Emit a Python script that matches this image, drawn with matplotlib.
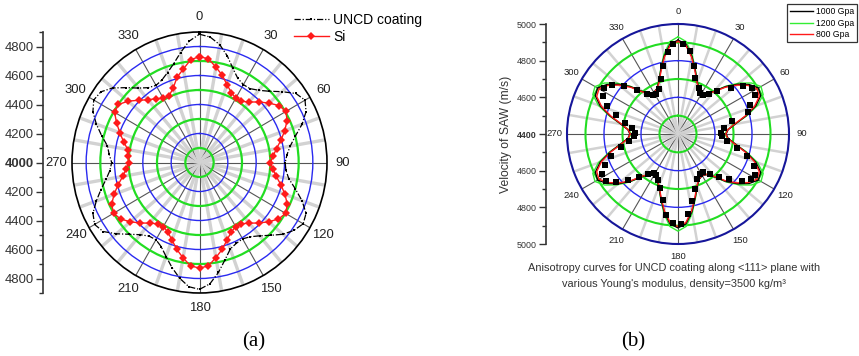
## SAW velocity anisotropy: (a) UNCD coating vs Si, (b) UNCD fits for several Young's moduli
import numpy as np
import matplotlib
matplotlib.use('Agg')
import matplotlib.pyplot as plt

plt.rcParams['font.family'] = ['Liberation Sans', 'DejaVu Sans']

## Data
# (a) velocity (m/s) every 5 degrees
ang_a = list(range(0, 365, 5))
uncd = [4885, 4868, 4825, 4760, 4690, 4640, 4620, 4622, 4650, 4695, 4760, 4830, 4860, 4830, 4770, 4700, 4650, 4620, 4605,
        4612, 4640, 4700, 4770, 4830, 4845, 4815, 4770, 4710, 4660, 4625, 4608, 4615, 4635, 4695, 4770, 4840, 4875,
        4860, 4810, 4750, 4690, 4640, 4615, 4620, 4650, 4700, 4765, 4830, 4855, 4830, 4775, 4720, 4670, 4635, 4620,
        4640, 4660, 4715, 4775, 4830, 4862, 4850, 4800, 4730, 4670, 4630, 4614, 4628, 4660, 4705, 4770, 4840, 4885]
si = [4730, 4718, 4668, 4622, 4570, 4532, 4512, 4515, 4545, 4590, 4638, 4685, 4705, 4682, 4640, 4595, 4552, 4522, 4500,
      4520, 4550, 4595, 4642, 4684, 4702, 4680, 4636, 4590, 4546, 4516, 4510, 4530, 4568, 4620, 4666, 4716, 4728,
      4716, 4668, 4620, 4568, 4530, 4510, 4516, 4546, 4590, 4636, 4680, 4700, 4684, 4642, 4595, 4550, 4520, 4500,
      4505, 4514, 4555, 4598, 4646, 4692, 4698, 4658, 4607, 4565, 4537, 4511, 4508, 4545, 4610, 4655, 4712, 4730]
scale_a_lbl = ['4800', '4600', '4400', '4200', '4000', '4200', '4400', '4600', '4800']

# (b) calculated curves every 5 degrees
ang_b = list(range(0, 365, 5))
v_1000 = [4912, 4892, 4831, 4760, 4703, 4672, 4662, 4671, 4704, 4766, 4822, 4870, 4902, 4893, 4847, 4780, 4714, 4672, 4660,
          4672, 4714, 4780, 4847, 4893, 4902, 4870, 4822, 4766, 4704, 4671, 4662, 4672, 4703, 4760, 4831, 4892, 4912,
          4892, 4831, 4760, 4703, 4672, 4662, 4671, 4704, 4766, 4822, 4870, 4902, 4893, 4847, 4780, 4714, 4672, 4660,
          4672, 4714, 4780, 4847, 4893, 4902, 4870, 4822, 4766, 4704, 4671, 4662, 4672, 4703, 4760, 4831, 4892, 4912]
v_1200 = [4930, 4906, 4840, 4763, 4704, 4670, 4658, 4668, 4705, 4770, 4832, 4885, 4918, 4908, 4858, 4785, 4714, 4668, 4652,
          4668, 4714, 4785, 4858, 4908, 4918, 4885, 4832, 4770, 4705, 4668, 4658, 4670, 4704, 4763, 4840, 4906, 4930,
          4906, 4840, 4763, 4704, 4670, 4658, 4668, 4705, 4770, 4832, 4885, 4918, 4908, 4858, 4785, 4714, 4668, 4652,
          4668, 4714, 4785, 4858, 4908, 4918, 4885, 4832, 4770, 4705, 4668, 4658, 4670, 4704, 4763, 4840, 4906, 4930]
v_800 = [4905, 4885, 4825, 4755, 4700, 4670, 4660, 4668, 4700, 4760, 4815, 4862, 4893, 4885, 4840, 4775, 4710, 4670, 4658,
         4670, 4710, 4775, 4840, 4885, 4893, 4862, 4815, 4760, 4700, 4668, 4660, 4670, 4700, 4755, 4825, 4885, 4905,
         4885, 4825, 4755, 4700, 4670, 4660, 4668, 4700, 4760, 4815, 4862, 4893, 4885, 4840, 4775, 4710, 4670, 4658,
         4670, 4710, 4775, 4840, 4885, 4893, 4862, 4815, 4760, 4700, 4668, 4660, 4670, 4700, 4755, 4825, 4885, 4905]
# (b) measured points
pts_ang = [3, 8, 13, 17, 24, 28, 32, 37, 42, 49, 53, 58, 63, 68, 72, 76, 83, 89,
           93, 98, 103, 108, 113, 118, 122, 127, 132, 137, 142, 147, 152, 157, 163, 168, 173, 178,
           183, 188, 193, 198, 203, 208, 212, 217, 222, 227, 232, 237, 242, 247, 252, 257, 262, 267,
           272, 277, 282, 287, 292, 297, 302, 307, 312, 317, 322, 327, 332, 337, 343, 348, 353, 357]
pts_v = [4893, 4855, 4780, 4720, 4674, 4655, 4650, 4676, 4717, 4779, 4837, 4872, 4865, 4817, 4797, 4700, 4651, 4631,
         4640, 4668, 4730, 4790, 4845, 4872, 4868, 4830, 4770, 4722, 4680, 4650, 4648, 4668, 4715, 4775, 4842, 4890,
         4888, 4848, 4772, 4712, 4670, 4652, 4648, 4670, 4712, 4770, 4828, 4866, 4868, 4830, 4782, 4715, 4665, 4638,
         4632, 4652, 4695, 4752, 4812, 4858, 4870, 4845, 4790, 4728, 4676, 4652, 4648, 4668, 4712, 4780, 4850, 4892]
scale_b_lbl = ['5000', '4800', '4600', '4400', '4600', '4800', '5000']

W, H = 859, 356
fig = plt.figure(figsize=(W / 100, H / 100), dpi=100)

GREEN = '#22dd22'
BLUE = '#2a2af0'


def rect(x0, y0, x1, y1):
    # pixel box -> figure fraction
    return [x0 / W, 1 - y1 / H, (x1 - x0) / W, (y1 - y0) / H]


def polar_panel(box, rmin, rmax, outer, outer_lw, lbl_size, pad, light_lw, ring_lw):
    ax = fig.add_axes(rect(*box), projection='polar')
    ax.set_theta_zero_location('N')
    ax.set_theta_direction(-1)
    ax.set_aspect('auto')
    ax.set_rlim(rmin, rmax)
    spokes = list(range(0, 360, 10))
    ax.set_xticks(np.deg2rad(spokes))
    ax.set_xticklabels([str(s) if s % 30 == 0 else '' for s in spokes], fontsize=lbl_size, color='#222222')
    for s, gl in zip(spokes, ax.xaxis.get_gridlines()):
        gl.set_linestyle('-')
        if s % 30 == 0:
            gl.set_color('#555555')
            gl.set_linewidth(0.8)
        else:
            gl.set_color('#d2d2d2')
            gl.set_linewidth(light_lw)
    rings = list(range(rmin + 100, rmax, 100))
    ax.set_yticks(rings)
    ax.set_yticklabels([])
    for i, gl in enumerate(ax.yaxis.get_gridlines()):
        gl.set_linestyle('-')
        if (rings[i] - rmin) % 200 == 100:
            gl.set_color(GREEN)
            gl.set_linewidth(ring_lw)
        else:
            gl.set_color(BLUE)
            gl.set_linewidth(1.0)
    ax.tick_params(length=0, pad=pad)
    ax.spines['polar'].set_color(outer)
    ax.spines['polar'].set_linewidth(outer_lw)
    return ax


def radial_scale(x, y0, y1, half, labels, lbl_size, minor):
    ax = fig.add_axes(rect(x, y0, x + 1, y1))
    ax.set_ylim(-half, half)
    ax.set_xticks([])
    for sp in ['top', 'right', 'bottom']:
        ax.spines[sp].set_visible(False)
    ax.spines['left'].set_color('#333333')
    ax.spines['left'].set_linewidth(1.2)
    ax.set_yticks(np.arange(-(len(labels) // 2) * 200, (len(labels) // 2) * 200 + 1, 200))
    ax.set_yticklabels(labels[::-1], fontsize=lbl_size, color='#333333')
    ax.set_yticks(minor, minor=True)
    ax.tick_params(axis='y', which='major', length=5, width=1, color='#333333', pad=1.5)
    ax.tick_params(axis='y', which='minor', length=3, width=1, color='#333333')
    ax.patch.set_visible(False)
    return ax


# Panel (a)
ax_a = polar_panel((72, 32, 327, 293), 4000, 4900, 'black', 1.2, 9.4, 4, 2.4, 1.6)
l_uncd, = ax_a.plot(np.deg2rad(ang_a), uncd, color='black', lw=0.9, linestyle=(0, (5, 1.5, 1, 1.5)),
                    marker='s', ms=1.8, mew=0)
l_si, = ax_a.plot(np.deg2rad(ang_a), si, color='#ff1a1a', lw=1.0, marker='D', ms=3.6, mew=0)
sa = radial_scale(43, 32, 293, 900, scale_a_lbl, 9.4, [-900, -700, -500, -300, -100, 100, 300, 500, 700, 900])
for t in sa.get_yticklabels():
    if t.get_text() == '4000':
        t.set_fontweight('bold')

fig.legend([l_uncd, l_si], ['UNCD coating', 'Si'], loc='upper left', bbox_to_anchor=(294 / W, 1 - 13 / H),
           frameon=False, fontsize=10, handlelength=2.5, handletextpad=0.3, labelspacing=0.2,
           borderpad=0, borderaxespad=0)

# Panel (b)
ax_b = polar_panel((567, 24, 789, 244), 4400, 5000, '#16169a', 1.5, 6.8, 2, 1.8, 1.5)
l_1200, = ax_b.plot(np.deg2rad(ang_b), v_1200, color='#33ee33', lw=1.0)
l_1000, = ax_b.plot(np.deg2rad(ang_b), v_1000, color='black', lw=1.0)
l_800, = ax_b.plot(np.deg2rad(ang_b), v_800, color='#ff1a1a', lw=1.0)
ax_b.plot(np.deg2rad(pts_ang), pts_v, linestyle='none', marker='s', ms=4.2, mew=0, color='black')
sb = radial_scale(546, 24, 244, 600, scale_b_lbl, 6.4, [-500, -300, -100, 100, 300, 500])
for t in sb.get_yticklabels():
    if t.get_text() == '4400':
        t.set_fontweight('bold')

leg = fig.legend([l_1000, l_1200, l_800], ['1000 Gpa', '1200 Gpa', '800 Gpa'], loc='upper right',
                 bbox_to_anchor=(857 / W, 1 - 4 / H), fontsize=6.2, handlelength=2.7, handletextpad=0.3,
                 labelspacing=0.3, borderpad=0.35, borderaxespad=0, fancybox=False, edgecolor='black')
leg.get_frame().set_linewidth(0.9)

fig.text(506 / W, 1 - 134 / H, 'Velocity of SAW (m/s)', rotation=90, ha='center', va='center',
         fontsize=8.7, color='#333333')
fig.text(674 / W, 1 - 268 / H, 'Anisotropy curves for UNCD coating along <111> plane with',
         ha='center', va='center', fontsize=7.9, color='#333333')
fig.text(674 / W, 1 - 284 / H, "various Young's modulus, density=3500 kg/m\u00b3",
         ha='center', va='center', fontsize=7.9, color='#333333')

# Panel captions
fig.text(254 / W, 1 - 342 / H, '(a)', ha='center', va='center', fontsize=15, family='Liberation Serif')
fig.text(633 / W, 1 - 342 / H, '(b)', ha='center', va='center', fontsize=15, family='Liberation Serif')

fig.savefig('out.png', dpi=100)
